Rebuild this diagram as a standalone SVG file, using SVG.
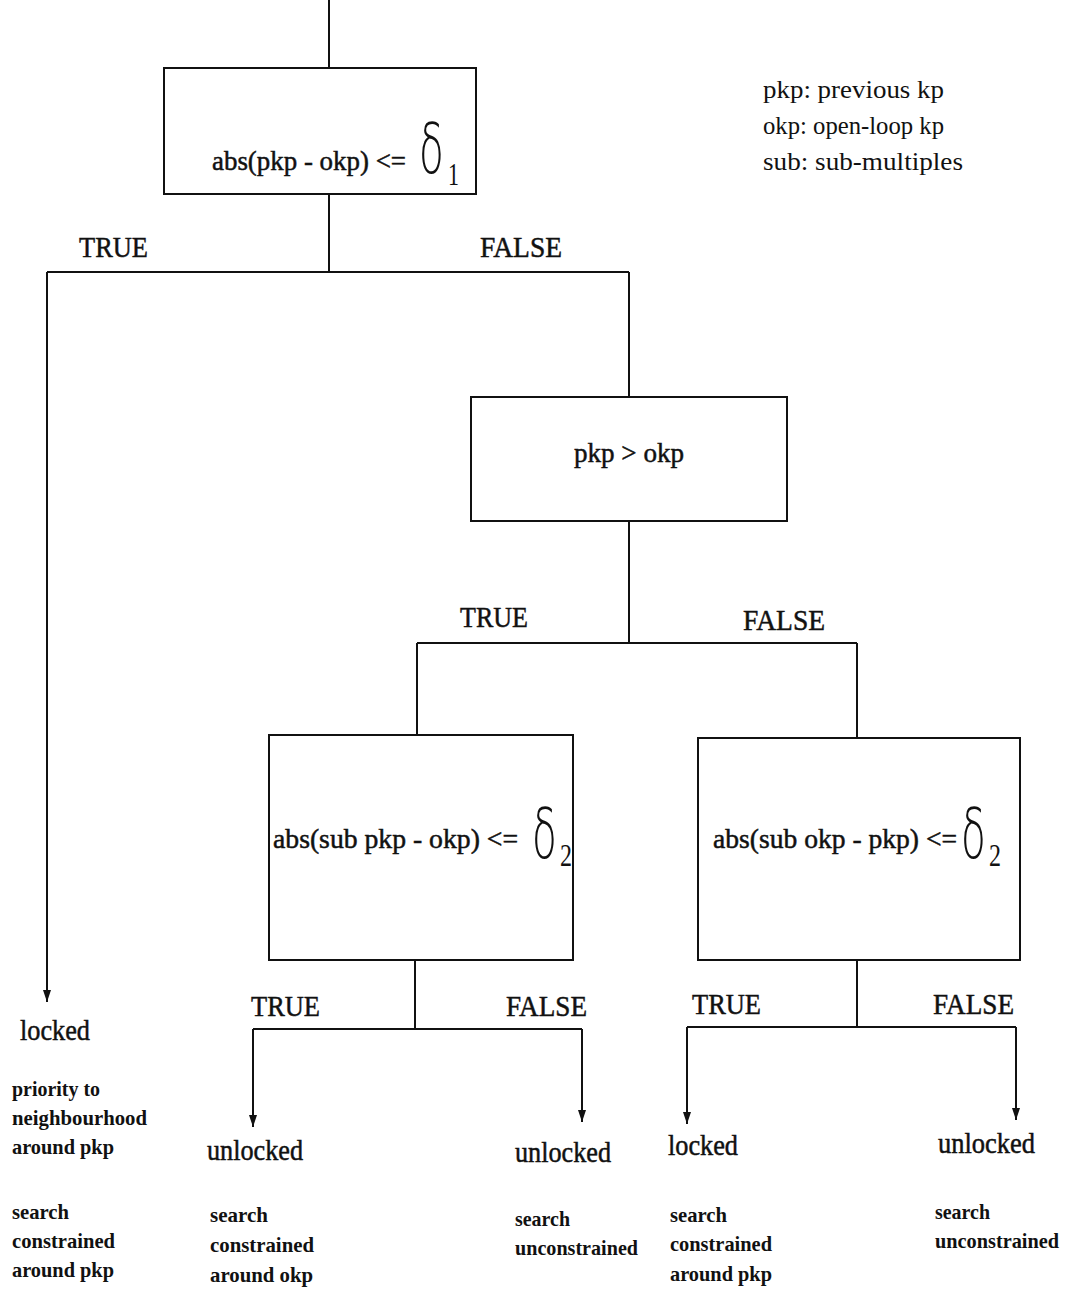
<svg xmlns="http://www.w3.org/2000/svg" width="1072" height="1292" viewBox="0 0 1072 1292">
  <defs>
    <marker id="arrow" viewBox="0 0 12 8" refX="12" refY="4" markerWidth="12" markerHeight="8" markerUnits="userSpaceOnUse" orient="auto">
      <path d="M0,0 L12,4 L0,8 Z" fill="#111"/>
    </marker>
    <style>
      .box { fill: #fff; stroke: #111; stroke-width: 2; }
      .wire { fill: none; stroke: #111; stroke-width: 2; }
      text { font-family: "Liberation Serif", "Times New Roman", serif; fill: #111; }
      .cond, .branch, .state { stroke: #111; stroke-width: 0.5; }
      .cond { font-size: 28px; }
      .branch { font-size: 30px; }
      .state { font-size: 30px; }
      .note { font-size: 21px; font-weight: bold; }
      .legend { font-size: 26px; }
      .delta { font-family: "DejaVu Sans", "Liberation Sans", sans-serif; font-size: 70px; font-weight: 200; }
      .sub { font-size: 32px; }
    </style>
  </defs>

  <rect width="1072" height="1292" fill="#fff"/>

  <!-- legend -->
  <g id="legend">
    <text class="legend" x="763" y="98" textLength="181" lengthAdjust="spacingAndGlyphs">pkp: previous kp</text>
    <text class="legend" x="763" y="134" textLength="181" lengthAdjust="spacingAndGlyphs">okp: open-loop kp</text>
    <text class="legend" x="763" y="170" textLength="200" lengthAdjust="spacingAndGlyphs">sub: sub-multiples</text>
  </g>

  <!-- connectors -->
  <g id="connectors">
    <path class="wire" d="M329,0 V68"/>
    <path class="wire" d="M329,194 V272 M47,272 H629"/>
    <path class="wire" d="M47,272 V1002" marker-end="url(#arrow)"/>
    <path class="wire" d="M629,272 V397"/>
    <path class="wire" d="M629,521 V643 M417,643 H857 M417,643 V735 M857,643 V738"/>
    <path class="wire" d="M415,960 V1029 M253,1029 H582"/>
    <path class="wire" d="M253,1029 V1127" marker-end="url(#arrow)"/>
    <path class="wire" d="M582,1029 V1122" marker-end="url(#arrow)"/>
    <path class="wire" d="M857,960 V1027 M687,1027 H1016"/>
    <path class="wire" d="M687,1027 V1124" marker-end="url(#arrow)"/>
    <path class="wire" d="M1016,1027 V1120" marker-end="url(#arrow)"/>

    <text class="branch" x="79" y="257" textLength="69" lengthAdjust="spacingAndGlyphs">TRUE</text>
    <text class="branch" x="480" y="257" textLength="82" lengthAdjust="spacingAndGlyphs">FALSE</text>
    <text class="branch" x="460" y="627" textLength="68" lengthAdjust="spacingAndGlyphs">TRUE</text>
    <text class="branch" x="743" y="630" textLength="82" lengthAdjust="spacingAndGlyphs">FALSE</text>
    <text class="branch" x="251" y="1016" textLength="69" lengthAdjust="spacingAndGlyphs">TRUE</text>
    <text class="branch" x="506" y="1016" textLength="81" lengthAdjust="spacingAndGlyphs">FALSE</text>
    <text class="branch" x="692" y="1014" textLength="69" lengthAdjust="spacingAndGlyphs">TRUE</text>
    <text class="branch" x="933" y="1014" textLength="81" lengthAdjust="spacingAndGlyphs">FALSE</text>
  </g>

  <!-- decision 1 -->
  <g id="node-abs-pkp-okp">
    <rect class="box" x="164" y="68" width="312" height="126"/>
    <text class="cond" x="212" y="170" textLength="194" lengthAdjust="spacingAndGlyphs">abs(pkp - okp) &lt;=</text>
    <text class="delta" transform="translate(419,173) scale(0.58,1)">δ</text>
    <text class="sub" x="448" y="185" textLength="11" lengthAdjust="spacingAndGlyphs">1</text>
  </g>

  <!-- decision 2 -->
  <g id="node-pkp-gt-okp">
    <rect class="box" x="471" y="397" width="316" height="124"/>
    <text class="cond" x="574" y="462" textLength="110" lengthAdjust="spacingAndGlyphs">pkp &gt; okp</text>
  </g>

  <!-- decision 3 -->
  <g id="node-abs-sub-pkp">
    <rect class="box" x="269" y="735" width="304" height="225"/>
    <text class="cond" x="273" y="848" textLength="245" lengthAdjust="spacingAndGlyphs">abs(sub pkp - okp) &lt;=</text>
    <text class="delta" transform="translate(532,858) scale(0.58,1)">δ</text>
    <text class="sub" x="560" y="866" textLength="12" lengthAdjust="spacingAndGlyphs">2</text>
  </g>

  <!-- decision 4 -->
  <g id="node-abs-sub-okp">
    <rect class="box" x="698" y="738" width="322" height="222"/>
    <text class="cond" x="713" y="848" textLength="244" lengthAdjust="spacingAndGlyphs">abs(sub okp - pkp) &lt;=</text>
    <text class="delta" transform="translate(961,858) scale(0.58,1)">δ</text>
    <text class="sub" x="989" y="866" textLength="12" lengthAdjust="spacingAndGlyphs">2</text>
  </g>

  <!-- outcomes -->
  <g id="outcome-locked-1">
    <text class="state" x="20" y="1040" textLength="70" lengthAdjust="spacingAndGlyphs">locked</text>
    <text class="note" x="12" y="1096" textLength="88" lengthAdjust="spacingAndGlyphs">priority to</text>
    <text class="note" x="12" y="1125" textLength="135" lengthAdjust="spacingAndGlyphs">neighbourhood</text>
    <text class="note" x="12" y="1154" textLength="102" lengthAdjust="spacingAndGlyphs">around pkp</text>
    <text class="note" x="12" y="1219" textLength="57" lengthAdjust="spacingAndGlyphs">search</text>
    <text class="note" x="12" y="1248" textLength="103" lengthAdjust="spacingAndGlyphs">constrained</text>
    <text class="note" x="12" y="1277" textLength="102" lengthAdjust="spacingAndGlyphs">around pkp</text>
  </g>

  <g id="outcome-unlocked-1">
    <text class="state" x="207" y="1160" textLength="96" lengthAdjust="spacingAndGlyphs">unlocked</text>
    <text class="note" x="210" y="1222" textLength="58" lengthAdjust="spacingAndGlyphs">search</text>
    <text class="note" x="210" y="1252" textLength="104" lengthAdjust="spacingAndGlyphs">constrained</text>
    <text class="note" x="210" y="1282" textLength="103" lengthAdjust="spacingAndGlyphs">around okp</text>
  </g>

  <g id="outcome-unlocked-2">
    <text class="state" x="515" y="1162" textLength="96" lengthAdjust="spacingAndGlyphs">unlocked</text>
    <text class="note" x="515" y="1226" textLength="55" lengthAdjust="spacingAndGlyphs">search</text>
    <text class="note" x="515" y="1255" textLength="123" lengthAdjust="spacingAndGlyphs">unconstrained</text>
  </g>

  <g id="outcome-locked-2">
    <text class="state" x="668" y="1155" textLength="70" lengthAdjust="spacingAndGlyphs">locked</text>
    <text class="note" x="670" y="1222" textLength="57" lengthAdjust="spacingAndGlyphs">search</text>
    <text class="note" x="670" y="1251" textLength="102" lengthAdjust="spacingAndGlyphs">constrained</text>
    <text class="note" x="670" y="1281" textLength="102" lengthAdjust="spacingAndGlyphs">around pkp</text>
  </g>

  <g id="outcome-unlocked-3">
    <text class="state" x="938" y="1153" textLength="97" lengthAdjust="spacingAndGlyphs">unlocked</text>
    <text class="note" x="935" y="1219" textLength="55" lengthAdjust="spacingAndGlyphs">search</text>
    <text class="note" x="935" y="1248" textLength="124" lengthAdjust="spacingAndGlyphs">unconstrained</text>
  </g>
</svg>
